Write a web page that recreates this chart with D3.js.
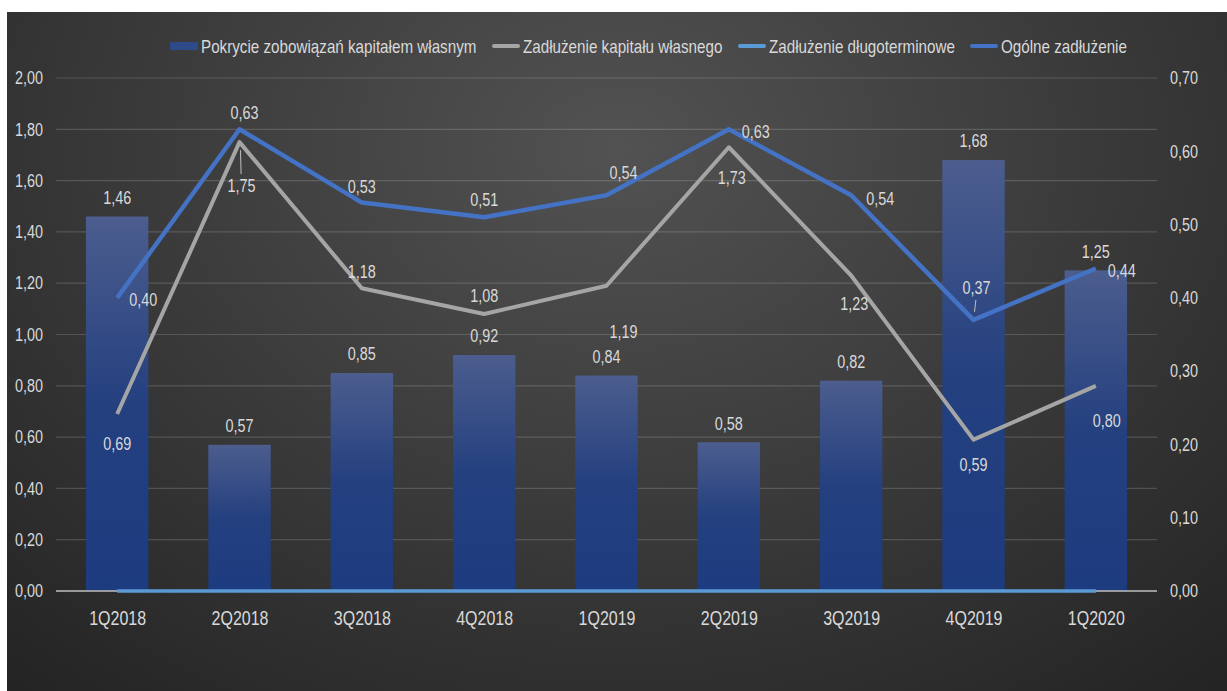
<!DOCTYPE html>
<html>
<head>
<meta charset="utf-8">
<script src="https://cdn.jsdelivr.net/npm/d3@7"></script>
<style>
  html, body { margin: 0; padding: 0; background: #fff; }
  svg text { font-family: "Liberation Sans", Arial, sans-serif; fill: #d9d9d9; }
</style>
</head>
<body>
<svg id="chart" width="1227" height="691"></svg>
<script>
// data
const quarters = ["1Q2018", "2Q2018", "3Q2018", "4Q2018", "1Q2019", "2Q2019", "3Q2019", "4Q2019", "1Q2020"];
const pokrycie = [1.46, 0.57, 0.85, 0.92, 0.84, 0.58, 0.82, 1.68, 1.25];        // bars, left axis
const zadluzenieKapitalu = [0.69, 1.75, 1.18, 1.08, 1.19, 1.73, 1.23, 0.59, 0.80]; // gray line, left axis
const zadluzenieDlugo = [0, 0, 0, 0, 0, 0, 0, 0, 0];                            // light blue, right axis
const ogolneZadluzenie = [0.40, 0.63, 0.53, 0.51, 0.54, 0.63, 0.54, 0.37, 0.44]; // blue line, right axis
const leftTicks = [0, 0.2, 0.4, 0.6, 0.8, 1.0, 1.2, 1.4, 1.6, 1.8, 2.0];
const rightTicks = [0, 0.1, 0.2, 0.3, 0.4, 0.5, 0.6, 0.7];
const seriesNames = ["Pokrycie zobowiązań kapitałem własnym", "Zadłużenie kapitału własnego", "Zadłużenie długoterminowe", "Ogólne zadłużenie"];

// label offsets (layout only)
const grayLabelOff = [[0, 30], [2, 44], [0, -17], [0, -18], [17, 46], [3, 30], [3, 28], [0, 25], [11, 35]];
const blueLabelOff = [[26, 2], [5, -17], [0, -16], [0, -18], [17, -23], [27, 2], [29, 3], [3, -32], [26, 2]];

const fmt = v => d3.format(".2f")(v).replace(".", ",");

const svg = d3.select("#chart");
const W = 1227, H = 691;
const plot = { left: 56, right: 1157, top: 78, bottom: 591 };

// background
const defs = svg.append("defs");
const bg = defs.append("radialGradient").attr("id", "bg")
  .attr("cx", "50%").attr("cy", "20%").attr("r", "75%")
  .attr("gradientTransform", "translate(0.5,0.2) scale(1,1.4) translate(-0.5,-0.2)");
bg.append("stop").attr("offset", "0%").attr("stop-color", "#525252");
bg.append("stop").attr("offset", "100%").attr("stop-color", "#242424");
svg.append("rect").attr("x", 7).attr("y", 12).attr("width", W - 7).attr("height", H - 12).attr("fill", "url(#bg)");

const barGrad = defs.append("linearGradient").attr("id", "barGrad").attr("x1", 0).attr("y1", 0).attr("x2", 0).attr("y2", 1);
barGrad.append("stop").attr("offset", "0%").attr("stop-color", "#4c5d8e");
barGrad.append("stop").attr("offset", "50%").attr("stop-color", "#24407f");
barGrad.append("stop").attr("offset", "100%").attr("stop-color", "#1d3b7f");

const x = d3.scalePoint().domain(quarters).range([plot.left, plot.right]).padding(0.5);
const barW = x.step() * 0.51;
const yL = d3.scaleLinear().domain([0, 2]).range([plot.bottom, plot.top]);
const yR = d3.scaleLinear().domain([0, 0.7]).range([plot.bottom, plot.top]);

// gridlines
svg.append("g").selectAll("line").data(leftTicks.slice(1)).join("line")
  .attr("x1", plot.left).attr("x2", plot.right)
  .attr("y1", d => yL(d)).attr("y2", d => yL(d))
  .attr("stroke", "rgba(255,255,255,0.16)").attr("stroke-width", 1.2);

// axis labels
const leftAxis = svg.append("g").attr("transform", `translate(${plot.left},0)`)
  .call(d3.axisLeft(yL).tickValues(leftTicks).tickFormat(fmt).tickSize(0).tickPadding(13));
leftAxis.select(".domain").remove();
leftAxis.selectAll("text").attr("font-size", 18);

const rightAxis = svg.append("g").attr("transform", `translate(${plot.right},0)`)
  .call(d3.axisRight(yR).tickValues(rightTicks).tickFormat(fmt).tickSize(0).tickPadding(13));
rightAxis.select(".domain").remove();
rightAxis.selectAll("text").attr("font-size", 18);

const xAxis = svg.append("g").attr("transform", `translate(0,${plot.bottom})`)
  .call(d3.axisBottom(x).tickSize(0).tickPadding(20));
xAxis.select(".domain").remove();
xAxis.selectAll("text").attr("font-size", 20);

// bars
svg.append("g").selectAll("rect").data(pokrycie).join("rect")
  .attr("x", (d, i) => x(quarters[i]) - barW / 2)
  .attr("y", d => yL(d))
  .attr("width", barW)
  .attr("height", d => yL(0) - yL(d))
  .attr("fill", "url(#barGrad)");

// baseline
svg.append("line").attr("x1", plot.left).attr("x2", plot.right)
  .attr("y1", plot.bottom).attr("y2", plot.bottom)
  .attr("stroke", "#bfbfbf").attr("stroke-width", 1.5);

// lines
const lineL = d3.line().x((d, i) => x(quarters[i])).y(d => yL(d));
const lineR = d3.line().x((d, i) => x(quarters[i])).y(d => yR(d));

svg.append("path").datum(zadluzenieDlugo).attr("d", lineR)
  .attr("fill", "none").attr("stroke", "#5b9bd5").attr("stroke-width", 3.5);
svg.append("path").datum(zadluzenieKapitalu).attr("d", lineL)
  .attr("fill", "none").attr("stroke", "#a5a5a5").attr("stroke-width", 4).attr("stroke-linejoin", "round");
svg.append("path").datum(ogolneZadluzenie).attr("d", lineR)
  .attr("fill", "none").attr("stroke", "#4472c4").attr("stroke-width", 4.5).attr("stroke-linejoin", "round");

// leader lines for labels placed away from their point
[[1, zadluzenieKapitalu, yL, grayLabelOff], [7, ogolneZadluzenie, yR, blueLabelOff]].forEach(([i, s, y, off]) => {
  const px = x(quarters[i]), py = y(s[i]);
  const dir = Math.sign(off[i][1]);
  svg.append("line")
    .attr("x1", px + 1).attr("y1", py + dir * 8)
    .attr("x2", px + off[i][0] * 0.8).attr("y2", py + off[i][1] - dir * 12)
    .attr("stroke", "#bfbfbf").attr("stroke-width", 1);
});

// data labels
const lbl = svg.append("g").attr("font-size", 18).attr("text-anchor", "middle");
lbl.selectAll("text.bar").data(pokrycie).join("text").attr("class", "bar")
  .attr("x", (d, i) => x(quarters[i]))
  .attr("y", d => yL(d) - 19).attr("dy", "0.35em").text(fmt);
lbl.selectAll("text.gray").data(zadluzenieKapitalu).join("text").attr("class", "gray")
  .attr("x", (d, i) => x(quarters[i]) + grayLabelOff[i][0])
  .attr("y", (d, i) => yL(d) + grayLabelOff[i][1]).attr("dy", "0.35em").text(fmt);
lbl.selectAll("text.blue").data(ogolneZadluzenie).join("text").attr("class", "blue")
  .attr("x", (d, i) => x(quarters[i]) + blueLabelOff[i][0])
  .attr("y", (d, i) => yR(d) + blueLabelOff[i][1]).attr("dy", "0.35em").text(fmt);

// legend
const legendX = [170, 492, 738, 970];
const legend = svg.append("g").attr("transform", "translate(0,46)");
seriesNames.forEach((name, i) => {
  const g = legend.append("g").attr("transform", `translate(${legendX[i]},0)`);
  if (i === 0) {
    g.append("rect").attr("x", 0).attr("y", -4).attr("width", 28).attr("height", 8).attr("fill", "#2e4a8a");
  } else {
    g.append("line").attr("x1", 2).attr("x2", 26).attr("y1", 0).attr("y2", 0)
      .attr("stroke", ["", "#a5a5a5", "#5b9bd5", "#4472c4"][i]).attr("stroke-width", 4).attr("stroke-linecap", "round");
  }
  g.append("text").attr("x", 31).attr("dy", "0.35em").attr("font-size", 19).text(name);
});

// condensed look of the original font
svg.selectAll("text").each(function () {
  const len = this.getComputedTextLength();
  this.setAttribute("textLength", len * 0.8);
  this.setAttribute("lengthAdjust", "spacingAndGlyphs");
});
</script>
</body>
</html>
